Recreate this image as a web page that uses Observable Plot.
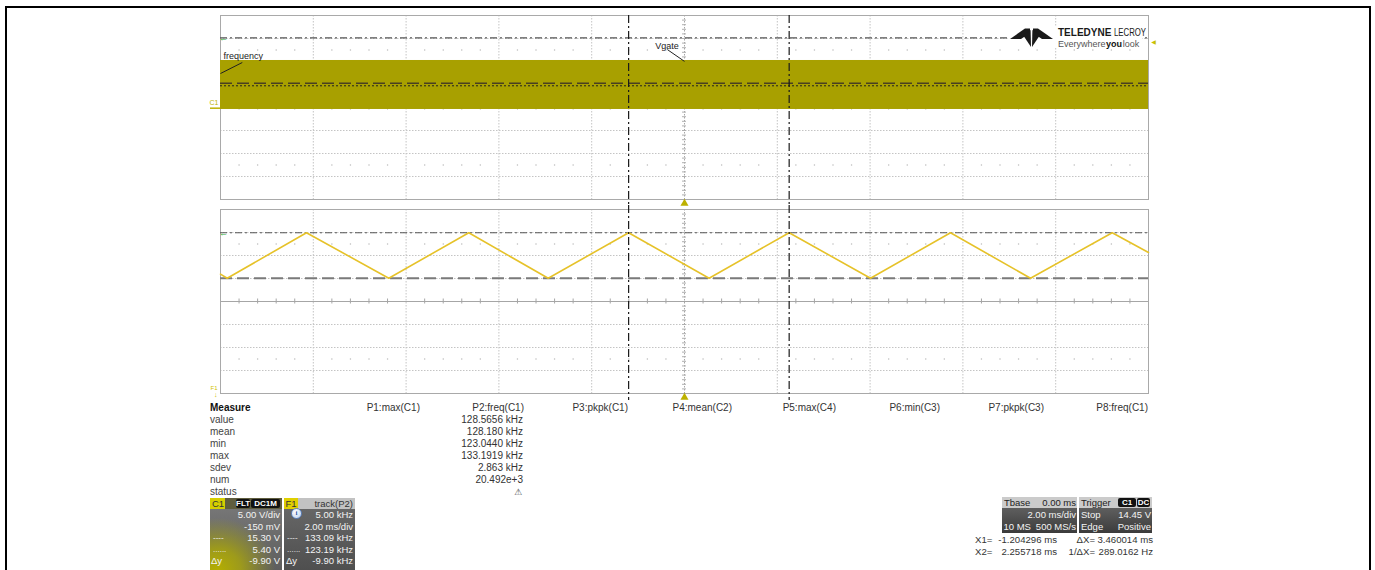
<!DOCTYPE html>
<html>
<head>
<meta charset="utf-8">
<script src="https://cdn.jsdelivr.net/npm/d3@7"></script>
<script src="https://cdn.jsdelivr.net/npm/@observablehq/plot@0.6"></script>
<style>
  html, body { margin: 0; padding: 0; background: #fff; overflow: hidden; }
  #screen { position: relative; width: 1375px; height: 570px; overflow: hidden;
            font-family: "Liberation Sans", Arial, sans-serif; font-size: 10px; color: #333; }
  #outline { position: absolute; left: 5px; top: 6px; width: 1366px; height: 640px;
             border: 2.5px solid #000; box-sizing: border-box; }
  .layer { position: absolute; left: 0; }
  .t { position: absolute; white-space: nowrap; line-height: 12px; }
  .box { position: absolute; overflow: hidden; }
  .hdr { position: absolute; left: 0; top: 0; right: 0; height: 11px; }
  .pill { position: absolute; top: 1px; height: 9px; background: #111; color: #fff; font-size: 8px;
          font-weight: bold; line-height: 9px; text-align: center; border-radius: 2px; }
</style>
</head>
<body>
<div id="screen">
  <div id="outline"></div>
</div>
<script>
// ---------------- time base : 2.00 ms/div, 10 divisions ----------------
const timeDomain = [-10, 10];                       // ms
const timeDivs = [-10, -8, -6, -4, -2, 0, 2, 4, 6, 8, 10];
const cursorX = [-1.204296, 2.255718];              // X1, X2 (ms)

// ---------------- C1 : 5.00 V/div, offset -150 mV ----------------
const c1VoltsPerDiv = 5.0;
const c1Offset = -0.150;
const c1Band = [{start: -10, end: 10, low: -0.28, high: 10.37}];   // switching envelope (V)
const c1Cursors = [15.30, 5.40];                    // upper (dash-dot), lower (dash)
const c1MeanLevel = 4.87;
const triggerLevel = 14.45;

// ---------------- F1 : track(P2), 5.00 kHz/div ----------------
const f1KHzPerDiv = 5.0;
const f1Center = 118.14;
const f1Cursors = [133.09, 123.19];
const trackTimes = [-10, -9.856, -8.147, -6.373, -4.649, -2.937, -1.204296, 0.53, 2.255718, 4.009, 5.733, 7.457, 9.218, 10];
const trackKHz   = [124.1, 123.19, 133.09, 123.19, 133.09, 123.19, 133.09, 123.19, 133.09, 123.19, 133.09, 123.19, 133.09, 128.8];

// ---------------- measurement table ----------------
const measureColumns = ["P1:max(C1)", "P2:freq(C1)", "P3:pkpk(C1)", "P4:mean(C2)", "P5:max(C4)", "P6:min(C3)", "P7:pkpk(C3)", "P8:freq(C1)"];
const measureRows = ["value", "mean", "min", "max", "sdev", "num", "status"];
const p2Stats = ["128.5656 kHz", "128.180 kHz", "123.0440 kHz", "133.1919 kHz", "2.863 kHz", "20.492e+3"];

// ---------------- readout boxes ----------------
const c1Readout = ["5.00 V/div", "-150 mV", "15.30 V", "5.40 V", "-9.90 V"];
const f1Readout = ["5.00 kHz", "2.00 ms/div", "133.09 kHz", "123.19 kHz", "-9.90 kHz"];
const tbaseReadout = ["0.00 ms", "2.00 ms/div", "10 MS", "500 MS/s"];
const triggerReadout = ["Stop", "14.45 V", "Edge", "Positive"];
const cursorReadout = ["-1.204296 ms", "3.460014 ms", "2.255718 ms", "289.0162 Hz"];

// ---------------- derived scale domains ----------------
const c1Domain = [-c1Offset - 4 * c1VoltsPerDiv, -c1Offset + 4 * c1VoltsPerDiv];
const f1Domain = [f1Center - 4 * f1KHzPerDiv, f1Center + 4 * f1KHzPerDiv];
const timeSub = d3.range(0, 51).map(k => timeDomain[0] + k * 0.4);
const timeMinor = timeSub.filter((_, k) => k % 5 !== 0);

const screen = document.getElementById("screen");

// graticule shared by both grids
function graticule(dom, step) {
  const rows = d3.range(1, 8).map(k => dom[0] + k * step);
  const ladder = d3.range(0, 41).map(k => dom[0] + k * step / 5);
  const center = (dom[0] + dom[1]) / 2;
  const dotRows = [dom[1] - 1.5 * step, dom[1] - 6.5 * step];
  const dots = dotRows.flatMap(v => timeMinor.map(t => ({t, v})));
  const grey = {stroke: "#c4c4c4", strokeDasharray: "1.5,1.5"};
  return [
    Plot.ruleX(timeDivs.slice(1, -1).filter(t => t !== 0), grey),
    Plot.ruleY(rows.filter((_, i) => i !== 3), grey),
    Plot.dot(dots, {x: "t", y: "v", r: 0.75, fill: "#bcbcbc"}),
    Plot.ruleX([0], {stroke: "#a6a6a6", strokeDasharray: "1.5,1.5"}),
    Plot.ruleY(ladder, {x1: 0, x2: 0, insetLeft: -2, insetRight: -2, stroke: "#b0b0b0"}),
    Plot.ruleY([center], {stroke: "#a6a6a6"}),
    Plot.ruleX(timeMinor, {y1: center, y2: center, insetTop: -2.5, insetBottom: -2.5, stroke: "#a6a6a6"}),
    Plot.frame({stroke: "#a9a9a9"})
  ];
}

const plotStyle = {background: "transparent", overflow: "visible", fontFamily: "Liberation Sans, Arial, sans-serif"};
const cursorStyle = {stroke: "#1a1a1a", strokeWidth: 1.2, strokeDasharray: "8,3,2,3"};
const markerYellow = "#bdb100";

// ---------------- upper grid : C1 ----------------
const upper = Plot.plot({
  width: 1375, height: 205,
  marginLeft: 220, marginRight: 227, marginTop: 15, marginBottom: 6,
  x: {domain: timeDomain, axis: null},
  y: {domain: c1Domain, axis: null},
  style: plotStyle,
  marks: [
    ...graticule(c1Domain, c1VoltsPerDiv),
    Plot.rect(c1Band, {x1: "start", x2: "end", y1: "low", y2: "high", fill: "#a8a000"}),
    Plot.ruleY([c1Cursors[1]], {stroke: "#4a4020", strokeWidth: 1.5, strokeDasharray: "12,5"}),
    Plot.ruleY([c1MeanLevel], {stroke: "#222", strokeDasharray: "2,2"}),
    Plot.ruleY([c1Cursors[0]], {stroke: "#555", strokeWidth: 1.2, strokeDasharray: "7,3,2,3"}),
    Plot.text(["←"], {x: timeDomain[0], y: c1Cursors[0], dx: 3, fill: "#2fae3a", fontSize: 9, fontWeight: "bold"}),
    Plot.text(["◀"], {x: timeDomain[1], y: triggerLevel, dx: 5, fill: "#c8c000", fontSize: 6, fontFamily: "DejaVu Sans"}),
    // channel ground marker
    Plot.ruleY([0], {x1: timeDomain[0], x2: timeDomain[0], insetLeft: -10, stroke: markerYellow, strokeWidth: 1.5}),
    Plot.text(["C1"], {x: timeDomain[0], y: 0, dx: -2, dy: -3, textAnchor: "end", lineAnchor: "bottom", fontSize: 7, fill: markerYellow}),
    // labels
    Plot.link([0], {x1: -9.53, y1: 9.93, x2: timeDomain[0], y2: 7.54, stroke: "#222"}),
    Plot.text(["frequency"], {x: timeDomain[0], y: c1Band[0].high, dx: 3, dy: -1, textAnchor: "start", lineAnchor: "bottom", fontSize: 9, fill: "#222", ariaLabel: "annotation"}),
    Plot.link([0], {x1: -0.37, y1: 12.75, x2: 0, y2: c1Band[0].high - 0.2, stroke: "#222"}),
    Plot.text(["Vgate"], {x: -0.63, y: 12.75, dy: -1, textAnchor: "start", lineAnchor: "bottom", fontSize: 9, fill: "#222", ariaLabel: "annotation"}),
    Plot.ruleX(cursorX, {...cursorStyle, insetBottom: -6}),
    Plot.dot([0], {x: 0, y: c1Domain[0], dy: 4, symbol: "triangle", r: 3, fill: markerYellow})
  ]
});
d3.select(upper).selectAll('g[aria-label="annotation"] text').attr("text-decoration", "underline");
upper.classList.add("layer");
upper.style.top = "0px";
screen.appendChild(upper);

// ---------------- lower grid : F1 = track(P2) ----------------
const track = trackTimes.map((t, i) => ({t, f: trackKHz[i]}));
const lower = Plot.plot({
  width: 1375, height: 195,
  marginLeft: 220, marginRight: 227, marginTop: 4, marginBottom: 7,
  x: {domain: timeDomain, axis: null},
  y: {domain: f1Domain, axis: null},
  style: plotStyle,
  marks: [
    ...graticule(f1Domain, f1KHzPerDiv),
    Plot.ruleY([f1Cursors[1]], {stroke: "#7a7a7a", strokeWidth: 2, strokeDasharray: "12,5"}),
    Plot.ruleY([f1Cursors[0]], {stroke: "#555", strokeWidth: 1.2, strokeDasharray: "7,3,2,3"}),
    Plot.line(track, {x: "t", y: "f", stroke: "#e6c229", strokeWidth: 1.6}),
    Plot.text(["←"], {x: timeDomain[0], y: f1Cursors[0], dx: 3, fill: "#2fae3a", fontSize: 9, fontWeight: "bold"}),
    Plot.text(["F1"], {x: timeDomain[0], y: f1Domain[0], dx: -3, dy: -5, textAnchor: "end", fontSize: 6, fill: "#d0c000"}),
    Plot.text(["↓"], {x: timeDomain[0], y: f1Domain[0], dx: -3, dy: 1, textAnchor: "end", fontSize: 7, fill: "#d0c000"}),
    Plot.ruleX(cursorX, {...cursorStyle, insetTop: -4, insetBottom: -7}),
    Plot.dot([0], {x: 0, y: f1Domain[0], dy: 4, symbol: "triangle", r: 3, fill: markerYellow})
  ]
});
lower.classList.add("layer");
lower.style.top = "205px";
screen.appendChild(lower);

// ---------------- logo ----------------
const ns = "http://www.w3.org/2000/svg";
const logo = document.createElementNS(ns, "svg");
logo.setAttribute("width", 1375);
logo.setAttribute("height", 60);
logo.setAttribute("class", "layer");
logo.style.top = "0px";
logo.innerHTML = `
  <rect x="1008" y="26" width="134" height="21" fill="#fff"/>
  <g fill="#1a1a1a">
    <path d="M1010,39 L1025,28.5 L1030,28.5 L1030,33 L1021,39 Z"/>
    <path d="M1053,39 L1038,28.5 L1033,28.5 L1033,33 L1042,39 Z"/>
    <path d="M1023,35 L1030.6,30 L1031,47 Z"/>
    <path d="M1040,35 L1032.4,30 L1032,47 Z"/>
  </g>
  <g font-family="Liberation Sans, Arial, sans-serif">
    <text transform="translate(1058,36)" font-size="10" font-weight="bold" fill="#1a1a1a">TELEDYNE</text>
    <text transform="translate(1114,36) scale(0.78,1)" font-size="10" fill="#1a1a1a">LECROY</text>
    <text transform="translate(1058,47) scale(0.95,1)" font-size="9.5" fill="#555">Everywhere</text>
    <text transform="translate(1106,47) scale(0.95,1)" font-size="9.5" font-weight="bold" fill="#111">you</text>
    <text transform="translate(1122.8,47) scale(0.95,1)" font-size="9.5" fill="#555">look</text>
  </g>`;
screen.appendChild(logo);

// ---------------- text helpers ----------------
function put(parent, str, x, y, opt = {}) {
  const el = document.createElement("div");
  el.className = "t";
  el.textContent = str;
  el.style.left = x + "px";
  el.style.top = y + "px";
  el.style.fontSize = (opt.size || 10) + "px";
  if (opt.weight) el.style.fontWeight = opt.weight;
  el.style.color = opt.color || "#333";
  if (opt.family) el.style.fontFamily = opt.family;
  const tx = opt.anchor === "end" ? "-100%" : opt.anchor === "middle" ? "-50%" : "0";
  el.style.transform = `translate(${tx}, -50%)`;
  parent.appendChild(el);
  return el;
}
function box(x, y, w, h, bg) {
  const el = document.createElement("div");
  el.className = "box";
  Object.assign(el.style, {left: x + "px", top: y + "px", width: w + "px", height: h + "px", background: bg});
  screen.appendChild(el);
  return el;
}

// ---------------- measurement table ----------------
const rowY = r => 408.3 + 11.9 * r;
put(screen, "Measure", 210, rowY(0), {weight: "bold", color: "#111"});
measureRows.forEach((name, r) => put(screen, name, 210, rowY(r + 1), {color: "#444"}));
measureColumns.forEach((name, c) => put(screen, name, 420 + 104 * c, rowY(0), {anchor: "end", color: "#333"}));
p2Stats.forEach((v, r) => put(screen, v, 523, rowY(r + 1), {anchor: "end", color: "#333"}));
put(screen, "⚠", 518, rowY(7), {anchor: "middle", size: 9, color: "#444", family: "DejaVu Sans"});

// ---------------- channel readouts (C1, F1) ----------------
const rowB = k => 515 + 11.6 * k;
const white = "#f4f4f4";
const bs = 9.5;   // readout font size
const c1 = box(210, 498, 72, 72,
  "radial-gradient(ellipse 95% 85% at 10% 100%, #b4ae00 0%, #9d9a1c 35%, rgba(110,110,90,0) 85%), linear-gradient(#7a7a7a, #5e5e5e)");
c1.innerHTML = `<div class="hdr" style="background:#5f5d3e"></div>
  <div class="hdr" style="width:15px;background:#d6ce00"></div>
  <div class="pill" style="left:26px;width:14px">FLT</div>
  <div class="pill" style="left:41px;width:29px">DC1M</div>`;
put(c1, "C1", 2, 5.5, {size: 9.5, color: "#333"});
put(c1, c1Readout[0], 70, rowB(0) - 498, {anchor: "end", color: white, size: bs});
put(c1, c1Readout[1], 70, rowB(1) - 498, {anchor: "end", color: white, size: bs});
put(c1, "----", 3, rowB(2) - 498, {color: white, size: 8});
put(c1, c1Readout[2], 70, rowB(2) - 498, {anchor: "end", color: white, size: bs});
put(c1, "......", 3, rowB(3) - 498, {color: white, size: 8});
put(c1, c1Readout[3], 70, rowB(3) - 498, {anchor: "end", color: white, size: bs});
put(c1, "Δy", 1, rowB(4) - 498, {color: white, size: bs});
put(c1, c1Readout[4], 70, rowB(4) - 498, {anchor: "end", color: white, size: bs});

const f1 = box(284, 498, 71, 72, "linear-gradient(#6a6a6a, #4f4f4f)");
f1.innerHTML = `<div class="hdr" style="background:#c2c2c2"></div>
  <div class="hdr" style="width:14px;background:#e0d000"></div>
  <div style="position:absolute;left:7px;top:10px;width:9px;height:9px;border-radius:50%;background:radial-gradient(circle at 40% 35%, #ffffff, #b8cdea);border:0.5px solid #5d82bf;color:#2a58a8;font:bold 7px/9px 'Liberation Serif',serif;text-align:center">i</div>`;
put(f1, "F1", 1.5, 5.5, {size: 9.5, color: "#333"});
put(f1, "track(P2)", 69, 5.5, {anchor: "end", color: "#333", size: bs});
put(f1, f1Readout[0], 69, rowB(0) - 498, {anchor: "end", color: white, size: bs});
put(f1, f1Readout[1], 69, rowB(1) - 498, {anchor: "end", color: white, size: bs});
put(f1, "----", 3, rowB(2) - 498, {color: white, size: 8});
put(f1, f1Readout[2], 69, rowB(2) - 498, {anchor: "end", color: white, size: bs});
put(f1, "......", 3, rowB(3) - 498, {color: white, size: 8});
put(f1, f1Readout[3], 69, rowB(3) - 498, {anchor: "end", color: white, size: bs});
put(f1, "Δy", 2, rowB(4) - 498, {color: white, size: bs});
put(f1, f1Readout[4], 69, rowB(4) - 498, {anchor: "end", color: white, size: bs});

// ---------------- timebase / trigger readouts ----------------
const tb = box(1002, 497, 75, 36, "linear-gradient(#6e6e6e, #3b3b3b)");
tb.innerHTML = `<div class="hdr" style="background:#cbcbcb"></div>`;
put(tb, "Tbase", 2, 6, {color: "#222", size: bs});
put(tb, tbaseReadout[0], 74, 6, {anchor: "end", color: "#222", size: bs});
put(tb, tbaseReadout[1], 74, 18, {anchor: "end", color: white, size: bs});
put(tb, tbaseReadout[2], 1.5, 29.5, {color: white, size: bs});
put(tb, tbaseReadout[3], 74, 29.5, {anchor: "end", color: white, size: bs});

const tr = box(1079, 497, 73, 36, "linear-gradient(#6e6e6e, #3b3b3b)");
tr.innerHTML = `<div class="hdr" style="background:#cbcbcb"></div>
  <div class="pill" style="left:39px;width:18px">C1</div>
  <div class="pill" style="left:58px;width:13px">DC</div>`;
put(tr, "Trigger", 2, 6, {color: "#222", size: bs});
put(tr, triggerReadout[0], 2, 18, {color: white, size: bs});
put(tr, triggerReadout[1], 72, 18, {anchor: "end", color: white, size: bs});
put(tr, triggerReadout[2], 2, 29.5, {color: white, size: bs});
put(tr, triggerReadout[3], 72, 29.5, {anchor: "end", color: white, size: bs});

// cursor readout
const cs = 9.6;
put(screen, "X1=", 975, 539.5, {size: cs});
put(screen, cursorReadout[0], 1057, 539.5, {anchor: "end", size: cs});
put(screen, "ΔX=", 1095, 539.5, {anchor: "end", size: cs});
put(screen, cursorReadout[1], 1153, 539.5, {anchor: "end", size: cs});
put(screen, "X2=", 975, 551.5, {size: cs});
put(screen, cursorReadout[2], 1057, 551.5, {anchor: "end", size: cs});
put(screen, "1/ΔX=", 1095, 551.5, {anchor: "end", size: cs});
put(screen, cursorReadout[3], 1153, 551.5, {anchor: "end", size: cs});
</script>
</body>
</html>
